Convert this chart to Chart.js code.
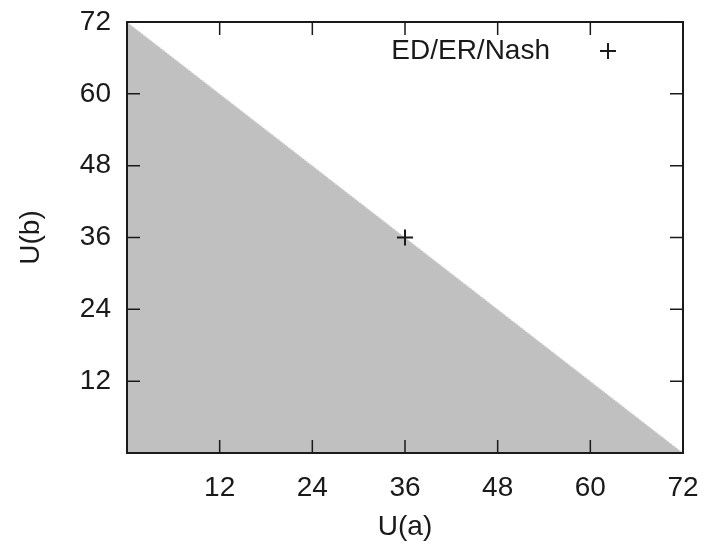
<!DOCTYPE html>
<html>
<head>
<meta charset="utf-8">
<script src="https://cdn.jsdelivr.net/npm/chart.js@4/dist/chart.umd.min.js"></script>
<style>
  body { margin: 0; background: #fff; }
</style>
</head>
<body>
<canvas id="nashChart" width="706" height="550"></canvas>
<script>
// feasible region boundary: U(a) + U(b) = 72
let frontierA = [0, 72];
let frontierB = [72, 0];
// ED/ER/Nash solution
let nashA = [36];
let nashB = [36];
let tickValues = [12, 24, 36, 48, 60, 72];

let ink = '#1a1a1a';
let font = { family: 'Liberation Sans, Arial, sans-serif', size: 28 };

// gnuplot-style frame with inward ticks + legend in the top right corner
let framePlugin = {
    id: 'frame',
    afterDatasetsDraw(chart) {
        let ctx = chart.ctx;
        let area = chart.chartArea;
        let xs = chart.scales.x, ys = chart.scales.y;
        ctx.save();
        ctx.strokeStyle = ink;
        ctx.lineWidth = 2;
        ctx.strokeRect(area.left, area.top, area.right - area.left, area.bottom - area.top);
        ctx.lineWidth = 1.5;
        ctx.beginPath();
        tickValues.forEach(v => {
            let px = xs.getPixelForValue(v);
            ctx.moveTo(px, area.bottom); ctx.lineTo(px, area.bottom - 13);
            ctx.moveTo(px, area.top); ctx.lineTo(px, area.top + 13);
            let py = ys.getPixelForValue(v);
            ctx.moveTo(area.left, py); ctx.lineTo(area.left + 13, py);
            ctx.moveTo(area.right, py); ctx.lineTo(area.right - 13, py);
        });
        ctx.stroke();

        // legend
        let ds = chart.data.datasets[1];
        ctx.font = font.size + 'px ' + font.family;
        ctx.fillStyle = ink;
        ctx.textAlign = 'right';
        ctx.textBaseline = 'middle';
        ctx.fillText(ds.label, area.right - 133, area.top + 29);
        let mx = area.right - 75, my = area.top + 29;
        ctx.lineWidth = 2;
        ctx.beginPath();
        ctx.moveTo(mx - 8, my); ctx.lineTo(mx + 8, my);
        ctx.moveTo(mx, my - 8); ctx.lineTo(mx, my + 8);
        ctx.stroke();
        ctx.restore();
    }
};

let nashChart = new Chart(document.getElementById('nashChart'), {
    type: 'scatter',
    data: {
        datasets: [{
            type: 'line',
            label: 'feasible',
            data: frontierA.map((a, i) => ({ x: a, y: frontierB[i] })),
            backgroundColor: '#c0c0c0',
            borderColor: '#e6e6e6',
            borderWidth: 1.5,
            borderDash: [1, 2],
            fill: 'origin',
            pointRadius: 0,
            order: 2
        }, {
            label: 'ED/ER/Nash',
            data: nashA.map((a, i) => ({ x: a, y: nashB[i] })),
            pointStyle: 'cross',
            pointRadius: 8,
            borderColor: ink,
            borderWidth: 2,
            order: 1
        }]
    },
    options: {
        responsive: false,
        animation: false,
        layout: { padding: { top: 22, right: 23, left: 0, bottom: 0 } },
        plugins: {
            legend: { display: false },
            tooltip: { enabled: false }
        },
        scales: {
            x: {
                type: 'linear',
                min: 0,
                max: 72,
                afterFit: s => { s.height = 97; s.paddingLeft = 0; s.paddingRight = 0; },
                grid: { display: false },
                border: { display: false },
                ticks: {
                    stepSize: 12,
                    padding: 10,
                    color: ink,
                    font: font,
                    maxRotation: 0,
                    callback: v => v === 0 ? '' : v
                },
                title: { display: true, text: 'U(a)', color: ink, font: font, padding: { top: 0, bottom: 6 } }
            },
            y: {
                type: 'linear',
                min: 0,
                max: 72,
                afterFit: s => { s.width = 127; s.paddingTop = 0; s.paddingBottom = 0; },
                grid: { display: false },
                border: { display: false },
                ticks: {
                    stepSize: 12,
                    padding: 8,
                    color: ink,
                    font: font,
                    callback: v => v === 0 ? '' : v
                },
                title: { display: true, text: 'U(b)', color: ink, font: font, padding: { top: 14, bottom: 0 } }
            }
        }
    },
    plugins: [framePlugin]
});
</script>
</body>
</html>
